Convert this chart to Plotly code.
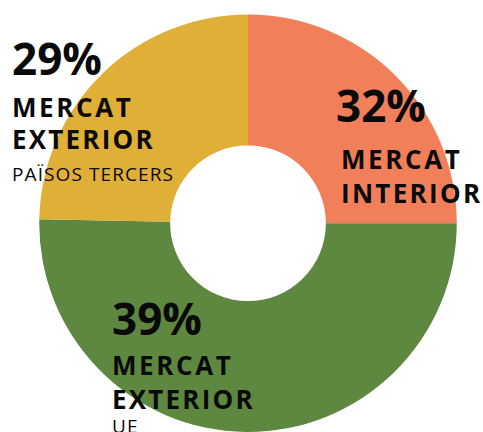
import plotly.graph_objects as go

# Data
categories = ["Mercat interior", "Mercat exterior UE", "Mercat exterior països tercers"]
slice_values = [25.0, 50.3, 24.7]          # slice sizes as drawn in the picture
label_pct = ["32%", "39%", "29%"]          # printed percentages
colors = ["#F07F5A", "#5E873F", "#E0AF37"]

W, H = 483, 432

cx, cy, R = 248, 223.5, 209   # target pie geometry in pixels

fig = go.Figure(go.Pie(
    labels=categories,
    values=slice_values,
    marker=dict(colors=colors, line=dict(width=0)),
    hole=0.373,
    sort=False,
    direction="clockwise",
    rotation=0,
    textinfo="none",
    hoverinfo="skip",
    showlegend=False,
    domain=dict(x=[(cx - R) / W, (cx + R) / W],
                y=[max(0, (H - cy - R) / H), (H - cy + R) / H]),
))

FONT_B = "Open Sans"

def px_x(x):
    return x / W

def px_y(y):
    return 1 - y / H

def add_line(text, x, y, size, bold=True, spacing=0):
    t = text
    if spacing:
        t = f'<span style="letter-spacing:{spacing}px">{t}</span>'
    if bold:
        t = f"<b>{t}</b>"
    fig.add_annotation(
        text=t, x=px_x(x), y=px_y(y), xref="paper", yref="paper",
        xanchor="left", yanchor="middle", showarrow=False,
        font=dict(family=FONT_B, size=size, color="#0a0a0a"),
        borderpad=0,
    )

# Left label (països tercers)
add_line(label_pct[2], 11, 57.5, 44)
add_line("MERCAT", 11, 107, 26, spacing=2.6)
add_line("EXTERIOR", 11, 139, 26, spacing=2.2)
add_line("PAÏSOS TERCERS", 11, 173.5, 19, bold=False, spacing=1.1)

# Right label (interior)
add_line(label_pct[0], 335, 104.5, 44)
add_line("MERCAT", 340, 159, 26, spacing=2.6)
add_line("INTERIOR", 340, 192.5, 26, spacing=2.3)

# Bottom label (UE)
add_line(label_pct[1], 111, 318, 44)
add_line("MERCAT", 111, 365, 26, spacing=2.6)
add_line("EXTERIOR", 111, 399, 26, spacing=2.2)
add_line("UE", 111, 426, 19, bold=False, spacing=1.1)

fig.update_layout(
    width=W, height=H,
    margin=dict(l=0, r=0, t=0, b=0),
    paper_bgcolor="white", plot_bgcolor="white",
)

fig.write_html(
    "out.html",
    config={"displayModeBar": False},
    post_script="document.body.style.margin='0';document.body.style.overflow='hidden';",
)
